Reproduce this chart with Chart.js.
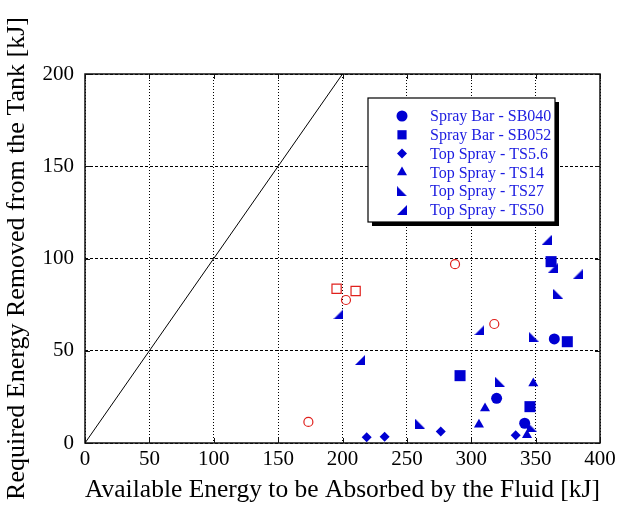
<!DOCTYPE html>
<html>
<head>
<meta charset="utf-8">
<script src="https://cdn.jsdelivr.net/npm/chart.js@4.4.1/dist/chart.umd.min.js"></script>
<style>
  html, body { margin: 0; padding: 0; background: #fff; }
  #wrap { width: 623px; height: 511px; }
</style>
</head>
<body>
<div id="wrap"><canvas id="energy"></canvas></div>
<script>
// measured points, [available energy kJ, required energy kJ]
const sb040 = [[364.5, 56.4], [319.7, 24.2], [341.5, 10.7]];
const sb052 = [[362, 98.3], [374.6, 54.9], [291.3, 36.5], [345.6, 19.7]];
const ts5_6 = [[218.8, 3.1], [232.7, 3.4], [276.3, 6.3], [334.5, 4.2]];
const ts14 = [[348.2, 32.3], [310.7, 18.8], [306, 10], [343.3, 4.3]];
const ts27 = [[367.6, 80.8], [348.5, 57.6], [322.3, 33.2], [260.2, 10.5], [347.5, 8.5]];
const ts50 = [[358.5, 110], [382.6, 91.4], [363.2, 94.7], [306.3, 61.2], [196.8, 69.8], [213.6, 45]];
const openCircles = [[173.5, 11.4], [202.7, 77.5], [287.4, 96.9], [317.9, 64.5]];
const openSquares = [[195.4, 83.6], [210.2, 82.4]];
const unityLine = [[0, 0], [200, 200]];

const xTicks = [0, 50, 100, 150, 200, 250, 300, 350, 400];
const yTicks = [0, 50, 100, 150, 200];

const blue = '#0000d2';
const red = '#e0201c';
const serif = 'Liberation Serif';

// right triangle markers (no built-in style for these)
function rightTri(corner) {
  const s = 10;
  const c = document.createElement('canvas');
  c.width = s; c.height = s;
  const g = c.getContext('2d');
  g.fillStyle = blue;
  g.beginPath();
  if (corner === 'left') {
    g.moveTo(0, 0); g.lineTo(0, s); g.lineTo(s, s);
  } else {
    g.moveTo(s, 0); g.lineTo(s, s); g.lineTo(0, s);
  }
  g.closePath();
  g.fill();
  return c;
}
const triLeft = rightTri('left');
const triRight = rightTri('right');

const pts = arr => arr.map(p => ({x: p[0], y: p[1]}));

function series(label, arr, style, radius, opts) {
  return Object.assign({
    label: label,
    data: pts(arr),
    showLine: false,
    pointStyle: style,
    pointRadius: radius,
    pointHoverRadius: radius,
    backgroundColor: blue,
    borderColor: blue,
    borderWidth: 0,
    inLegend: true
  }, opts || {});
}

const datasets = [
  {
    label: 'y = x',
    data: pts(unityLine),
    showLine: true,
    borderColor: '#000',
    borderWidth: 1,
    pointRadius: 0,
    fill: false
  },
  series('Spray Bar - SB040', sb040, 'circle', 5.5),
  series('Spray Bar - SB052', sb052, 'rect', 7.8),
  series('Top Spray - TS5.6', ts5_6, 'rectRot', 5),
  series('Top Spray - TS14', ts14, 'triangle', 5.8),
  series('Top Spray - TS27', ts27, triLeft, 5),
  series('Top Spray - TS50', ts50, triRight, 5),
  series('open circles', openCircles, 'circle', 4.5,
    {backgroundColor: 'rgba(0,0,0,0)', borderColor: red, borderWidth: 1.2, inLegend: false}),
  series('open squares', openSquares, 'rect', 6.5,
    {backgroundColor: 'rgba(0,0,0,0)', borderColor: red, borderWidth: 1.2, inLegend: false})
];

// plot frame, short inward ticks, and boxed key with drop shadow
const framePlugin = {
  id: 'frame',
  beforeDatasetsDraw(chart) {
    const {ctx, chartArea: a, scales} = chart;
    ctx.save();
    ctx.strokeStyle = '#111';
    ctx.lineWidth = 1.5;
    ctx.strokeRect(a.left, a.top, a.right - a.left, a.bottom - a.top);
    ctx.lineWidth = 1;
    ctx.beginPath();
    xTicks.forEach(v => {
      const px = Math.round(scales.x.getPixelForValue(v)) + 0.5;
      ctx.moveTo(px, a.bottom); ctx.lineTo(px, a.bottom - 5);
      ctx.moveTo(px, a.top); ctx.lineTo(px, a.top + 5);
    });
    yTicks.forEach(v => {
      const py = Math.round(scales.y.getPixelForValue(v)) + 0.5;
      ctx.moveTo(a.left, py); ctx.lineTo(a.left + 5, py);
      ctx.moveTo(a.right, py); ctx.lineTo(a.right - 5, py);
    });
    ctx.stroke();
    ctx.restore();
  },
  afterDraw(chart) {
    const {ctx, chartArea: a} = chart;
    const bx = a.left + 283, by = a.top + 24, bw = 187, bh = 124;
    ctx.save();
    ctx.fillStyle = '#000';
    ctx.fillRect(bx + 4, by + 4, bw, bh);
    ctx.fillStyle = '#fff';
    ctx.fillRect(bx, by, bw, bh);
    ctx.strokeStyle = '#000';
    ctx.lineWidth = 1.2;
    ctx.strokeRect(bx, by, bw, bh);

    ctx.font = '16px "' + serif + '"';
    ctx.textBaseline = 'middle';
    ctx.textAlign = 'left';
    let row = 0;
    chart.data.datasets.forEach(ds => {
      if (!ds.inLegend) return;
      const y = by + 18 + row * 18.8;
      ctx.fillStyle = blue;
      ctx.strokeStyle = blue;
      Chart.helpers.drawPoint(ctx, {
        pointStyle: ds.pointStyle,
        radius: Math.min(ds.pointRadius, 6.5),
        rotation: 0,
        borderWidth: 0
      }, bx + 34, y);
      ctx.fillStyle = '#1c1ce0';
      ctx.fillText(ds.label, bx + 62, y + 1);
      row++;
    });
    ctx.restore();
  }
};

new Chart(document.getElementById('energy'), {
  type: 'scatter',
  data: {datasets: datasets},
  plugins: [framePlugin],
  options: {
    responsive: true,
    maintainAspectRatio: false,
    animation: false,
    layout: {padding: {top: 74, right: 23, left: 0, bottom: 0}},
    plugins: {
      legend: {display: false},
      tooltip: {enabled: false}
    },
    scales: {
      x: {
        type: 'linear',
        min: xTicks[0],
        max: xTicks[xTicks.length - 1],
        afterFit: s => { s.height = 68; },
        afterBuildTicks: s => { s.ticks = xTicks.map(v => ({value: v})); },
        grid: {color: '#000', lineWidth: 1, drawTicks: false},
        border: {display: false, dash: [1, 2]},
        ticks: {color: '#000', font: {family: serif, size: 21}, padding: 4, maxRotation: 0},
        title: {
          display: true,
          text: 'Available Energy to be Absorbed by the Fluid [kJ]',
          color: '#000',
          font: {family: serif, size: 26},
          padding: {top: 0, bottom: 5}
        }
      },
      y: {
        type: 'linear',
        min: yTicks[0],
        max: yTicks[yTicks.length - 1],
        afterFit: s => { s.width = 85; },
        afterBuildTicks: s => { s.ticks = yTicks.map(v => ({value: v})); },
        grid: {color: '#000', lineWidth: 1, drawTicks: false},
        border: {display: false, dash: [3, 2]},
        ticks: {color: '#000', font: {family: serif, size: 21}, padding: 11},
        title: {
          display: true,
          text: 'Required Energy Removed from the Tank [kJ]',
          color: '#000',
          font: {family: serif, size: 26},
          padding: {top: 2, bottom: 0}
        }
      }
    }
  }
});
</script>
</body>
</html>
